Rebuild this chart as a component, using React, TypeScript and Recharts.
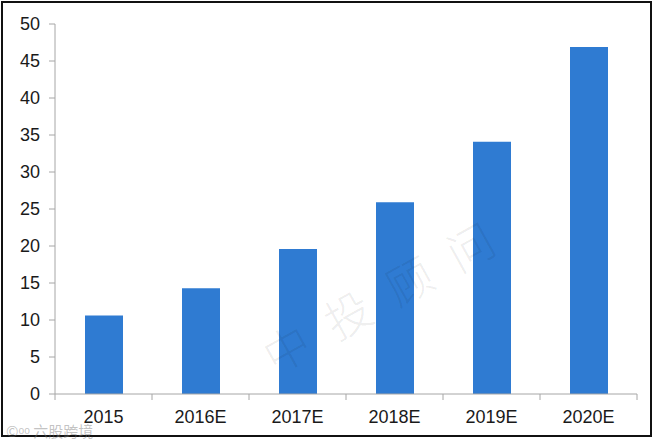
import { ComposedChart, Bar, XAxis, YAxis } from 'recharts';

const years = ['2015', '2016E', '2017E', '2018E', '2019E', '2020E'];
const values = [10.6, 14.3, 19.6, 25.9, 34.1, 46.9];
const yTicks = [0, 5, 10, 15, 20, 25, 30, 35, 40, 45, 50];

const data = years.map((year, i) => ({ year, value: values[i] }));

const AXIS = '#a6a6a6';
const FONT = '"Liberation Sans", Arial, sans-serif';

// x ticks sit between the categories, like the Excel original
function XTick(props: any) {
  const { x, y, payload, index, width, visibleTicksCount } = props;
  const band = width / visibleTicksCount;
  const top = y - 8;
  return (
    <g>
      <line x1={x - band / 2} x2={x - band / 2} y1={top} y2={top + 6} stroke={AXIS} />
      {index === visibleTicksCount - 1 && (
        <line x1={x + band / 2} x2={x + band / 2} y1={top} y2={top + 6} stroke={AXIS} />
      )}
      <text x={x} y={top + 29} textAnchor="middle" fontSize={18} fill="#1a1a1a" fontFamily={FONT}>
        {payload.value}
      </text>
    </g>
  );
}

export default function App() {
  return (
    <div style={{ position: 'fixed', left: 0, top: 0, width: 658, height: 444, background: '#fff' }}>
      <div
        style={{
          position: 'absolute',
          left: 1,
          top: 1,
          width: 651,
          height: 436,
          border: '2px solid #111',
          boxSizing: 'border-box',
        }}
      />
      <ComposedChart
        width={658}
        height={444}
        data={data}
        margin={{ top: 24, right: 21, bottom: 20, left: 0 }}
      >
        <XAxis
          dataKey="year"
          height={30}
          stroke={AXIS}
          tickLine={false}
          tick={<XTick />}
          interval={0}
        />
        <YAxis
          width={55}
          domain={[0, 50]}
          ticks={yTicks}
          interval={0}
          stroke={AXIS}
          tickSize={6}
          tickMargin={9}
          tick={{ fontSize: 18, fill: '#1a1a1a', fontFamily: FONT }}
        />
        <Bar dataKey="value" fill="#2f7bd2" barSize={38} isAnimationActive={false} />
      </ComposedChart>
      <div
        style={{
          position: 'absolute',
          left: 388,
          top: 290,
          transform: 'translate(-50%, -50%) rotate(-29deg)',
          fontSize: 46,
          letterSpacing: 24,
          color: 'rgba(0,0,0,0.08)',
          fontFamily: '"Noto Sans CJK SC", sans-serif',
          fontWeight: 300,
          whiteSpace: 'nowrap',
          pointerEvents: 'none',
        }}
      >
        中投顾问
      </div>
      <div
        style={{
          position: 'absolute',
          left: 6,
          top: 420,
          fontSize: 15,
          color: 'rgba(120,120,120,0.45)',
          fontFamily: '"Noto Sans CJK SC", sans-serif',
          whiteSpace: 'nowrap',
        }}
      >
        ©ᵒᵒ 六股跨境
      </div>
    </div>
  );
}
